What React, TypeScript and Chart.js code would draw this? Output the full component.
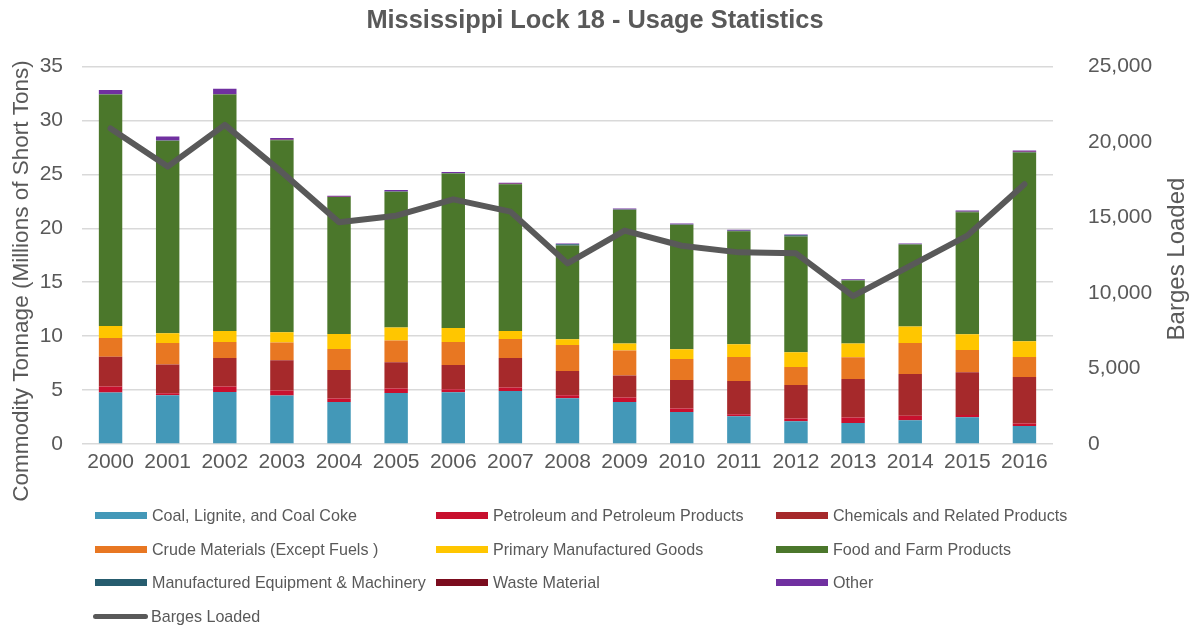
import React, { useEffect, useRef } from "react";
import { Chart, registerables } from "chart.js";

Chart.register(...registerables);

const years = ["2000","2001","2002","2003","2004","2005","2006","2007","2008","2009","2010","2011","2012","2013","2014","2015","2016"];

const coal = [4.77, 4.52, 4.82, 4.49, 3.90, 4.73, 4.80, 4.92, 4.24, 3.90, 2.97, 2.57, 2.10, 1.95, 2.20, 2.48, 1.67];
const petroleum = [0.55, 0.18, 0.50, 0.46, 0.31, 0.41, 0.27, 0.31, 0.28, 0.40, 0.31, 0.19, 0.26, 0.50, 0.43, 0.21, 0.22];
const chemicals = [2.78, 2.66, 2.66, 2.81, 2.65, 2.44, 2.26, 2.75, 2.25, 2.04, 2.66, 3.08, 3.11, 3.58, 3.86, 3.96, 4.33];
const crude = [1.73, 2.01, 1.48, 1.65, 1.95, 2.01, 2.13, 1.76, 2.41, 2.32, 1.94, 2.23, 1.67, 2.01, 2.88, 2.07, 1.85];
const primary = [1.12, 0.90, 1.02, 0.95, 1.39, 1.21, 1.30, 0.74, 0.53, 0.65, 0.90, 1.18, 1.37, 1.27, 1.52, 1.46, 1.46];
const food = [21.45, 17.84, 21.93, 17.81, 12.69, 12.58, 14.32, 13.61, 8.69, 12.40, 11.54, 10.48, 10.73, 5.85, 7.61, 11.31, 17.50];
const manufactured = [0.02, 0.02, 0.02, 0.02, 0.02, 0.02, 0.02, 0.02, 0.12, 0.03, 0.03, 0.03, 0.12, 0.02, 0.02, 0.05, 0.05];
const waste = [0.01, 0.01, 0.01, 0.01, 0.01, 0.01, 0.01, 0.01, 0.01, 0.01, 0.01, 0.01, 0.01, 0.01, 0.01, 0.01, 0.01];
const other = [0.40, 0.37, 0.49, 0.16, 0.09, 0.15, 0.10, 0.09, 0.07, 0.09, 0.09, 0.09, 0.05, 0.09, 0.05, 0.10, 0.12];
const barges = [20900, 18370, 21130, 18000, 14680, 15120, 16200, 15390, 11960, 14130, 13130, 12690, 12630, 9790, 11800, 13800, 17200];

const leftTicks = [0, 5, 10, 15, 20, 25, 30, 35];
const rightTicks = [0, 5000, 10000, 15000, 20000, 25000];

const FONT = "'Liberation Sans', Arial, sans-serif";
const TEXT = "#595959";

const barSeries = [
  { label: "Coal, Lignite, and Coal Coke", data: coal, color: "#4398b8" },
  { label: "Petroleum and Petroleum Products", data: petroleum, color: "#c8102e" },
  { label: "Chemicals and Related Products", data: chemicals, color: "#a6292b" },
  { label: "Crude Materials (Except Fuels )", data: crude, color: "#e87722" },
  { label: "Primary Manufactured Goods", data: primary, color: "#ffc600" },
  { label: "Food and Farm Products", data: food, color: "#4b772b" },
  { label: "Manufactured Equipment & Machinery", data: manufactured, color: "#265c6e" },
  { label: "Waste Material", data: waste, color: "#7b0c1e" },
  { label: "Other", data: other, color: "#7030a0" },
];

const axisTitles = {
  id: "axisTitles",
  afterDraw(chart: any) {
    const ctx = chart.ctx;
    ctx.save();
    ctx.fillStyle = TEXT;
    ctx.textAlign = "center";
    ctx.textBaseline = "middle";
    ctx.font = `22.5px ${FONT}`;
    ctx.translate(22, 281);
    ctx.rotate(-Math.PI / 2);
    ctx.fillText("Commodity Tonnage (Millions of Short Tons)", 0, 0);
    ctx.restore();
    ctx.save();
    ctx.fillStyle = TEXT;
    ctx.textAlign = "center";
    ctx.textBaseline = "middle";
    ctx.font = `24px ${FONT}`;
    ctx.translate(1177, 259);
    ctx.rotate(-Math.PI / 2);
    ctx.fillText("Barges Loaded", 0, 0);
    ctx.restore();
  },
};

const legendItems = [
  ...barSeries.map((s) => ({ label: s.label, color: s.color, line: false })),
  { label: "Barges Loaded", color: "#595959", line: true },
];
const colX = [95, 436, 776];
const rowY = [515, 549, 582, 616];

export default function App() {
  const ref = useRef<HTMLCanvasElement>(null);
  useEffect(() => {
    document.body.style.margin = "0";
    const chart = new Chart(ref.current as HTMLCanvasElement, {
      type: "bar",
      data: {
        labels: years,
        datasets: [
          {
            type: "line",
            label: "Barges Loaded",
            data: barges,
            yAxisID: "y1",
            borderColor: "#595959",
            backgroundColor: "#595959",
            borderWidth: 6,
            pointRadius: 0,
            tension: 0,
            borderJoinStyle: "round",
            borderCapStyle: "round",
            order: 0,
          } as any,
          ...barSeries.map((s) => ({
            type: "bar" as const,
            label: s.label,
            data: s.data,
            backgroundColor: s.color,
            borderWidth: 0,
            yAxisID: "y",
            stack: "s",
            order: 1,
            barPercentage: 1,
            categoryPercentage: 0.41,
          })),
        ],
      },
      options: {
        responsive: false,
        animation: false,
        layout: { padding: 0 },
        plugins: {
          legend: { display: false },
          tooltip: { enabled: false },
          title: {
            display: true,
            text: "Mississippi Lock 18 - Usage Statistics",
            color: TEXT,
            font: { family: FONT, size: 25.4, weight: "bold" },
            padding: { top: 6, bottom: 30 },
          },
        },
        scales: {
          x: {
            stacked: true,
            grid: { display: false, drawTicks: false },
            border: { display: false },
            ticks: { color: TEXT, font: { family: FONT, size: 21 }, padding: 6, maxRotation: 0 },
            afterFit: (s: any) => { s.height = 184; },
          },
          y: {
            stacked: true,
            min: 0,
            max: 35,
            afterBuildTicks: (s: any) => { s.ticks = leftTicks.map((v) => ({ value: v })); },
            grid: { color: "#d9d9d9", lineWidth: 1.5, drawTicks: false },
            border: { display: false },
            ticks: { color: TEXT, font: { family: FONT, size: 21 }, padding: 19 },
            afterFit: (s: any) => { s.width = 82; },
          },
          y1: {
            position: "right",
            min: 0,
            max: 25000,
            afterBuildTicks: (s: any) => { s.ticks = rightTicks.map((v) => ({ value: v })); },
            grid: { display: false, drawTicks: false },
            border: { display: false },
            ticks: {
              color: TEXT,
              font: { family: FONT, size: 21 },
              padding: 35,
              callback: (v: any) => Number(v).toLocaleString("en-US"),
            },
            afterFit: (s: any) => { s.width = 137; },
          },
        },
      } as any,
      plugins: [axisTitles],
    });
    return () => chart.destroy();
  }, []);

  return (
    <div style={{ position: "relative", width: 1190, height: 628, background: "#fff" }}>
      <canvas ref={ref} width={1190} height={628} style={{ display: "block" }} />
      {legendItems.map((it, i) => {
        const col = i < 9 ? i % 3 : 0;
        const row = i < 9 ? Math.floor(i / 3) : 3;
        const x = colX[col];
        const y = rowY[row];
        return (
          <div key={i} style={{ position: "absolute", left: x - (it.line ? 2 : 0), top: y - 10, height: 20, display: "flex", alignItems: "center", whiteSpace: "nowrap" }}>
            <div
              style={{
                width: it.line ? 55 : 52,
                height: it.line ? 5 : 7,
                background: it.color,
                borderRadius: it.line ? 3 : 0,
                marginRight: it.line ? 3 : 5,
              }}
            />
            <span style={{ fontFamily: FONT, fontSize: 16.1, color: TEXT, lineHeight: "20px" }}>{it.label}</span>
          </div>
        );
      })}
    </div>
  );
}
